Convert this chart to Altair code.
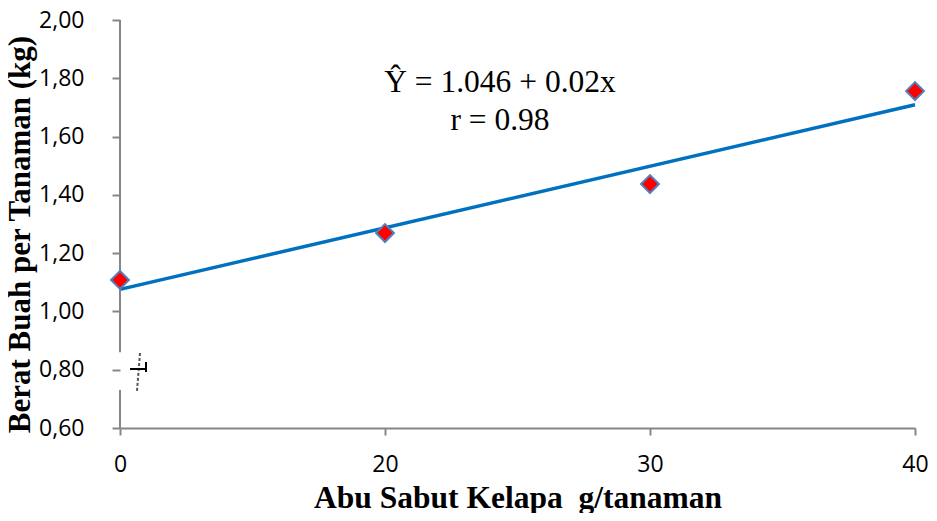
import altair as alt
import pandas as pd

# data
dose_labels = ["0", "20", "30", "40"]
dose_index = [0, 1, 2, 3]
weights = [1.108, 1.269, 1.437, 1.756]

eq_line1 = "Ŷ = 1.046 + 0.02x"
eq_line2 = "r = 0.98"

df = pd.DataFrame({"idx": dose_index, "label": dose_labels, "w": weights})

W, H = 795, 408
Y_MIN, Y_MAX = 0.6, 2.0
# axis break gap (data units)
gap_lo, gap_hi = 0.73, 0.86

xs = alt.Scale(domain=[0, 3], nice=False, zero=False)
ys = alt.Scale(domain=[Y_MIN, Y_MAX], nice=False, zero=False)

label_expr = "['0','20','30','40'][datum.value]"

base = alt.Chart(df)

x_axis = alt.Axis(
    values=dose_index, labelExpr=label_expr, title="Abu Sabut Kelapa\u00a0 g/tanaman",
    grid=False, domainColor="#868686", tickColor="#868686", tickSize=7,
    labelFont="Open Sans", labelFontSize=23, labelColor="#000000", labelPadding=18,
    labelFlush=False, labelOverlap=False,
    titleFont="Liberation Serif", titleFontSize=31.5, titleFontWeight="bold",
    titleColor="#000000", titleY=70, titleBaseline="middle",
    domainWidth=2, tickWidth=2,
)
y_axis = alt.Axis(
    values=[0.6, 0.8, 1.0, 1.2, 1.4, 1.6, 1.8, 2.0],
    labelExpr="replace(format(datum.value, '.2f'), '.', ',')",
    title="Berat Buah per Tanaman (kg)", grid=False, domain=False,
    tickColor="#868686", tickSize=8, tickWidth=2,
    labelFont="Open Sans", labelFontSize=23, labelColor="#000000", labelPadding=28,
    labelFlush=False, labelOverlap=False,
    titleFont="Liberation Serif", titleFontSize=31, titleFontWeight="bold",
    titleColor="#000000", titleX=-100, titleY=214, titleAngle=-90,
    titleAlign="center", titleBaseline="middle",
)

trend = base.mark_line(color="#0070C0", strokeWidth=3.5).transform_regression(
    "idx", "w", method="linear", extent=[0, 3]
).encode(
    x=alt.X("idx:Q", scale=xs, axis=x_axis),
    y=alt.Y("w:Q", scale=ys, axis=y_axis),
)

points = base.mark_point(
    shape="diamond", filled=True, fill="#FF0000", stroke="#4F81BD",
    strokeWidth=2, size=320, opacity=1,
).encode(
    x=alt.X("idx:Q", scale=xs, axis=x_axis),
    y=alt.Y("w:Q", scale=ys, axis=y_axis),
)

# y axis line with a break
seg_df = pd.DataFrame({"y1": [Y_MIN, gap_hi], "y2": [gap_lo, Y_MAX]})
yline = alt.Chart(seg_df).mark_rule(color="#868686", strokeWidth=2).encode(
    x=alt.value(0),
    y=alt.Y("y1:Q", scale=ys, axis=y_axis),
    y2="y2:Q",
)

# break symbol
one = pd.DataFrame({"a": [0]})
brk1 = alt.Chart(one).mark_rule(
    color="#555555", strokeWidth=2, strokeDash=[3, 2]
).encode(x=alt.value(20), x2=alt.value(17), y=alt.value(333), y2=alt.value(371))
brk2 = alt.Chart(one).mark_rule(
    color="#000000", strokeWidth=2
).encode(x=alt.value(10), x2=alt.value(27), y=alt.value(349))
brk3 = alt.Chart(one).mark_rule(
    color="#000000", strokeWidth=2
).encode(x=alt.value(26), y=alt.value(342), y2=alt.value(352))

eq1 = alt.Chart(one).mark_text(
    font="Liberation Serif", fontSize=31.5, color="#000000", align="center", baseline="middle",
    text=eq_line1,
).encode(x=alt.value(380), y=alt.value(63))
eq2 = alt.Chart(one).mark_text(
    font="Liberation Serif", fontSize=31.5, color="#000000", align="center", baseline="middle",
    text=eq_line2,
).encode(x=alt.value(380), y=alt.value(101))

chart = alt.layer(trend, yline, points, brk1, brk2, brk3, eq1, eq2).properties(
    width=W, height=H,
    autosize=alt.AutoSizeParams(type="none"),
    padding={"left": 112, "top": 12, "right": 14, "bottom": 85},
).configure(background="white").configure_view(stroke=None)

chart.save("out.html", embed_options={"renderer": "svg", "actions": False})
